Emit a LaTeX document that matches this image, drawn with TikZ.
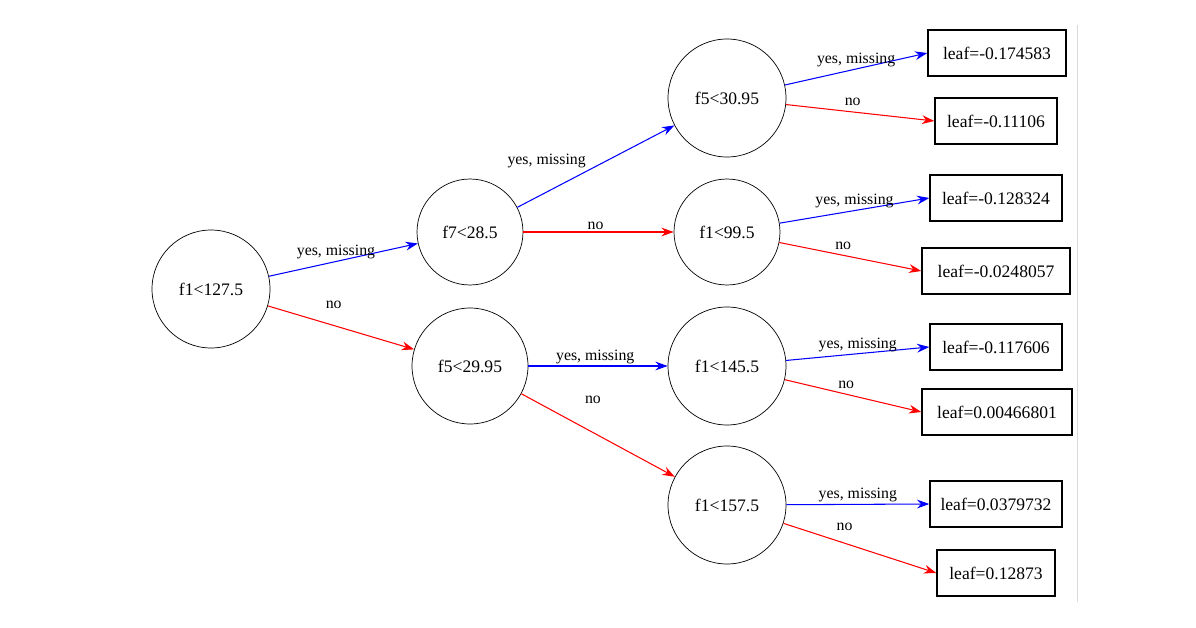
\documentclass[tikz,border=0pt]{standalone}
\usepackage{fontspec}
\setmainfont{Liberation Serif}
\usetikzlibrary{arrows.meta, positioning, shapes.geometric}
\tikzset{
    every picture/.style = {
        > = {Stealth[length=7pt, width=5pt]},
        x = 0.02cm,
        y = -0.02cm
    },
    split/.style = {
        draw,
        circle,
        inner sep = 0pt,
        font = \fontsize{10}{12}\selectfont
    },
    leaf/.style = {
        draw,
        thick,
        rectangle,
        minimum height = 0.92cm,
        font = \fontsize{10}{12}\selectfont
    },
    yes/.style = {->, blue, semithick},
    no/.style = {->, red, semithick},
    lbl/.style = {
        black,
        inner sep = 1pt,
        font = \fontsize{9}{11}\selectfont
    }
}

\begin{document}
\begin{tikzpicture}
    \useasboundingbox (0,0) rectangle (1196,628);
    \draw[black!15] (1077,25) -- (1077,602);

    % split nodes
    \node[split, minimum size = 2.36cm] (r) at (211,289) {f1<127.5};
    \node[split, minimum size = 2.12cm] (a) at (470,232) {f7<28.5};
    \node[split, minimum size = 2.32cm] (b) at (470,366) {f5<29.95};
    \node[split, minimum size = 2.36cm] (aa) at (727,98) {f5<30.95};
    \node[split, minimum size = 2.12cm] (ab) at (727,232) {f1<99.5};
    \node[split, minimum size = 2.36cm] (ba) at (727,366) {f1<145.5};
    \node[split, minimum size = 2.36cm] (bb) at (727,505) {f1<157.5};

    % leaves
    \node[leaf, minimum width = 2.76cm] (l1) at (997,53) {leaf=-0.174583};
    \node[leaf, minimum width = 2.44cm] (l2) at (996,121) {leaf=-0.11106};
    \node[leaf, minimum width = 2.64cm] (l3) at (996,198) {leaf=-0.128324};
    \node[leaf, minimum width = 2.96cm] (l4) at (996,271) {leaf=-0.0248057};
    \node[leaf, minimum width = 2.64cm] (l5) at (996,347) {leaf=-0.117606};
    \node[leaf, minimum width = 3.00cm] (l6) at (997,412) {leaf=0.00466801};
    \node[leaf, minimum width = 2.64cm] (l7) at (996,504) {leaf=0.0379732};
    \node[leaf, minimum width = 2.36cm] (l8) at (996,573) {leaf=0.12873};

    % edges
    \draw[yes] (r) -- node[lbl, above, pos=0.45] {yes, missing} (a);
    \draw[no] (r) -- node[lbl, above, pos=0.45, yshift=8pt] {no} (b);
    \draw[yes] (a) -- node[lbl, above left, pos=0.45] {yes, missing} (aa);
    \draw[no] (a) -- node[lbl, above, pos=0.48] {no} (ab);
    \draw[yes] (b) -- node[lbl, above, pos=0.48] {yes, missing} (ba);
    \draw[no] (b) -- node[lbl, above right, pos=0.4, yshift=12pt] {no} (bb);

    \draw[yes] (aa) -- node[lbl, above, pos=0.5] {yes, missing} (l1.west);
    \draw[no] (aa) -- node[lbl, above, pos=0.45, yshift=2pt] {no} (l2.west);
    \draw[yes] (ab) -- node[lbl, above, pos=0.5] {yes, missing} (l3.west);
    \draw[no] (ab) -- node[lbl, above, pos=0.45, yshift=2pt] {no} (l4.west);
    \draw[yes] (ba) -- node[lbl, above, pos=0.5] {yes, missing} (l5.west);
    \draw[no] (ba) -- node[lbl, above, pos=0.45, yshift=2pt] {no} (l6.west);
    \draw[yes] (bb) -- node[lbl, above, pos=0.5] {yes, missing} (l7.west);
    \draw[no] (bb) -- node[lbl, above, pos=0.4, yshift=6pt] {no} (l8.west);
\end{tikzpicture}
\end{document}
